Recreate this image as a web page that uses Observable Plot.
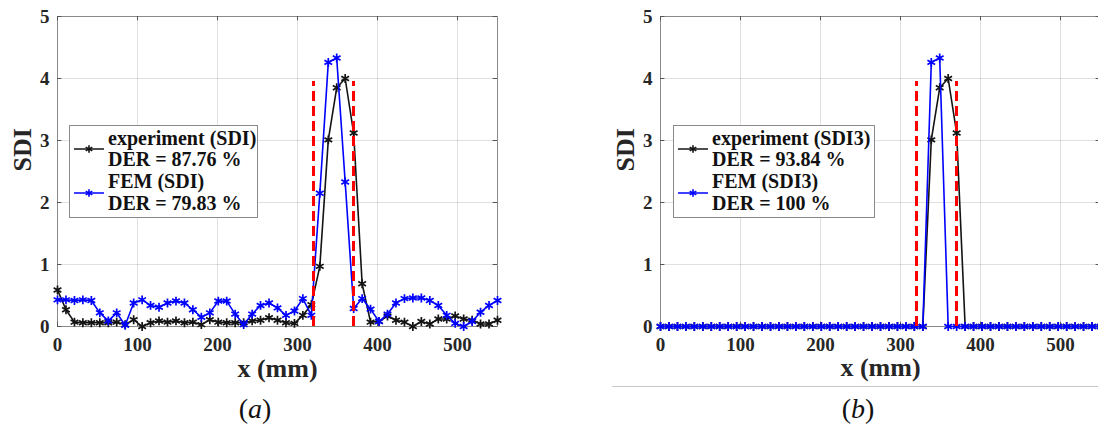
<!DOCTYPE html>
<html><head><meta charset="utf-8">
<script src="https://cdn.jsdelivr.net/npm/d3@7"></script>
<script src="https://cdn.jsdelivr.net/npm/@observablehq/plot@0.6"></script>
<style>
html,body{margin:0;padding:0;background:#fff;overflow:hidden}
#wrap{position:relative;width:1098px;height:425px;overflow:hidden;font-family:"Liberation Serif","Times New Roman",serif;color:#262626}
.panel{position:absolute;top:0}
.cap{position:absolute;top:392px;font-size:28px;line-height:34px;transform:translateX(-50%);white-space:nowrap;color:#111}
.sep{position:absolute;left:612px;top:386px;width:486px;height:1px;background:#c8c8c8}
.leg{position:absolute}
</style></head><body><div id="wrap"></div>
<script>
// sensor positions along the beam (mm)
const xPos = [0, 10.6, 21.2, 31.7, 42.3, 52.9, 63.5, 74.0, 84.6, 95.2, 105.8, 116.3, 126.9, 137.5, 148.1, 158.7, 169.2, 179.8, 190.4, 201.0, 211.5, 222.1, 232.7, 243.3, 253.8, 264.4, 275.0, 285.6, 296.2, 306.7, 317.3, 327.9, 338.5, 349.0, 359.6, 370.2, 380.8, 391.3, 401.9, 412.5, 423.1, 433.7, 444.2, 454.8, 465.4, 476.0, 486.5, 497.1, 507.7, 518.3, 528.8, 539.4, 550];
// panel (a)
const expSDI = [0.59, 0.27, 0.07, 0.06, 0.06, 0.06, 0.06, 0.07, 0.03, 0.11, 0.00, 0.06, 0.09, 0.07, 0.09, 0.06, 0.07, 0.03, 0.11, 0.07, 0.06, 0.06, 0.06, 0.09, 0.10, 0.14, 0.10, 0.06, 0.05, 0.18, 0.35, 0.97, 3.01, 3.85, 4.00, 3.12, 0.69, 0.07, 0.08, 0.17, 0.10, 0.07, 0.00, 0.08, 0.04, 0.12, 0.12, 0.17, 0.12, 0.10, 0.04, 0.04, 0.10];
const femSDI = [0.43, 0.43, 0.42, 0.43, 0.42, 0.22, 0.09, 0.22, 0.02, 0.38, 0.43, 0.34, 0.31, 0.38, 0.41, 0.38, 0.27, 0.15, 0.22, 0.41, 0.41, 0.20, 0.03, 0.20, 0.34, 0.38, 0.30, 0.18, 0.25, 0.45, 0.18, 2.15, 4.26, 4.33, 2.33, 0.29, 0.45, 0.28, 0.08, 0.20, 0.38, 0.45, 0.46, 0.46, 0.42, 0.34, 0.18, 0.05, 0.00, 0.08, 0.23, 0.34, 0.42];
// panel (b)
const expSDI3 = [0, 0, 0, 0, 0, 0, 0, 0, 0, 0, 0, 0, 0, 0, 0, 0, 0, 0, 0, 0, 0, 0, 0, 0, 0, 0, 0, 0, 0, 0, 0, 0, 3.01, 3.85, 4.00, 3.12, 0, 0, 0, 0, 0, 0, 0, 0, 0, 0, 0, 0, 0, 0, 0, 0, 0];
const femSDI3 = [0, 0, 0, 0, 0, 0, 0, 0, 0, 0, 0, 0, 0, 0, 0, 0, 0, 0, 0, 0, 0, 0, 0, 0, 0, 0, 0, 0, 0, 0, 0, 0, 4.26, 4.33, 0, 0, 0, 0, 0, 0, 0, 0, 0, 0, 0, 0, 0, 0, 0, 0, 0, 0, 0];
const xTicks = [0, 100, 200, 300, 400, 500];
const yTicks = [0, 1, 2, 3, 4, 5];
const damageEdges = [320, 370];
const damageTop = 3.95;
const legendA = ["experiment (SDI)", "DER = 87.76 %", "FEM (SDI)", "DER = 79.83 %"];
const legendB = ["experiment (SDI3)", "DER = 93.84 %", "FEM (SDI3)", "DER = 100 %"];
const captions = ["(a)", "(b)"];

const EXP_COLOR = "#141414", FEM_COLOR = "#0000ff", DMG_COLOR = "#ff0000";
const FONT = '"Liberation Serif","Times New Roman",serif';
const wrap = document.getElementById("wrap");

function rows(ys) { return xPos.map((x, i) => ({x, y: ys[i]})); }

function panel(exp, fem, left, labelDy) {
  const chart = Plot.plot({
    width: 540, height: 395,
    marginLeft: 57, marginRight: 43, marginTop: 16, marginBottom: 69,
    style: {fontFamily: FONT, fontWeight: "bold", fontSize: "19px", color: "#262626", background: "transparent", overflow: "visible"},
    x: {type: "linear", domain: [0, 550], label: null},
    y: {type: "linear", domain: [0, 5], label: null},
    marks: [
      Plot.gridX(xTicks, {stroke: "#000", strokeOpacity: 0.12}),
      Plot.gridY(yTicks, {stroke: "#000", strokeOpacity: 0.12}),
      Plot.frame({stroke: "#8a8a8a", strokeWidth: 1}),
      Plot.axisX(xTicks, {anchor: "bottom", tickSize: 0, tickPadding: 11, fontSize: 19, fontWeight: "bold", tickFormat: d3.format("d")}),
      Plot.axisY(yTicks, {anchor: "left", tickSize: 0, tickPadding: 8, fontSize: 19, fontWeight: "bold", tickFormat: d3.format("d")}),
      Plot.ruleX(xTicks, {x: d => d, y1: 0, y2: 0.07, stroke: "#555"}),
      Plot.ruleX(xTicks, {x: d => d, y1: 4.93, y2: 5, stroke: "#555"}),
      Plot.ruleY(yTicks, {y: d => d, x1: 0, x2: 5.5, stroke: "#555"}),
      Plot.ruleY(yTicks, {y: d => d, x1: 544.5, x2: 550, stroke: "#555"}),
      Plot.text(["x (mm)"], {text: d => d, frameAnchor: "bottom", dy: labelDy, fontSize: 26, fontWeight: "bold", fill: "#262626"}),
      Plot.text(["SDI"], {text: d => d, frameAnchor: "left", dx: -35, rotate: -90, fontSize: 26, fontWeight: "bold", fill: "#262626"}),
      Plot.line(rows(exp), {x: "x", y: "y", stroke: EXP_COLOR, strokeWidth: 1.6}),
      Plot.dot(rows(exp), {x: "x", y: "y", symbol: "asterisk", r: 4.2, stroke: EXP_COLOR, strokeWidth: 1.7}),
      Plot.line(rows(fem), {x: "x", y: "y", stroke: FEM_COLOR, strokeWidth: 1.6}),
      Plot.dot(rows(fem), {x: "x", y: "y", symbol: "asterisk", r: 4.2, stroke: FEM_COLOR, strokeWidth: 1.7}),
      Plot.ruleX(damageEdges, {x: d => d, y1: 0, y2: damageTop, stroke: DMG_COLOR, strokeWidth: 3, strokeDasharray: "10,5"})
    ]
  });
  chart.classList.add("panel");
  chart.style.left = left + "px";
  wrap.appendChild(chart);
}

function legend(texts, left, width) {
  const h = 93;
  const svg = d3.create("svg").attr("class", "leg").attr("width", width).attr("height", h)
    .style("left", left + "px").style("top", "125px");
  svg.append("rect").attr("x", 0.5).attr("y", 0.5).attr("width", width - 1).attr("height", h - 1)
    .attr("fill", "#fff").attr("stroke", "#8a8a8a");
  const colors = [EXP_COLOR, FEM_COLOR];
  const sym = d3.symbol(d3.symbolAsterisk, Math.PI * 3.6 * 3.6);
  colors.forEach((c, k) => {
    const yy = 24 + 44 * k;
    svg.append("line").attr("x1", 5).attr("x2", 35).attr("y1", yy).attr("y2", yy).attr("stroke", c).attr("stroke-width", 1.5);
    svg.append("path").attr("d", sym()).attr("transform", `translate(20,${yy})`).attr("stroke", c).attr("stroke-width", 1.6).attr("fill", "none");
  });
  const base = [20, 41, 63, 85];
  texts.forEach((t, i) => {
    svg.append("text").attr("x", 39).attr("y", base[i]).text(t)
      .attr("font-family", FONT).attr("font-weight", "bold")
      .attr("font-size", 20).attr("fill", "#111");
  });
  wrap.appendChild(svg.node());
}

panel(expSDI, femSDI, 0, 50);
panel(expSDI3, femSDI3, 603, 49);
legend(legendA, 69, 189);
legend(legendB, 673, 202);

const sep = document.createElement("div"); sep.className = "sep"; wrap.appendChild(sep);
[[captions[0], 255], [captions[1], 858]].forEach(([t, x]) => {
  const d = document.createElement("div");
  d.className = "cap";
  d.style.left = x + "px";
  d.innerHTML = "(" + "<i>" + t.slice(1, -1) + "</i>" + ")";
  wrap.appendChild(d);
});
</script></body></html>
